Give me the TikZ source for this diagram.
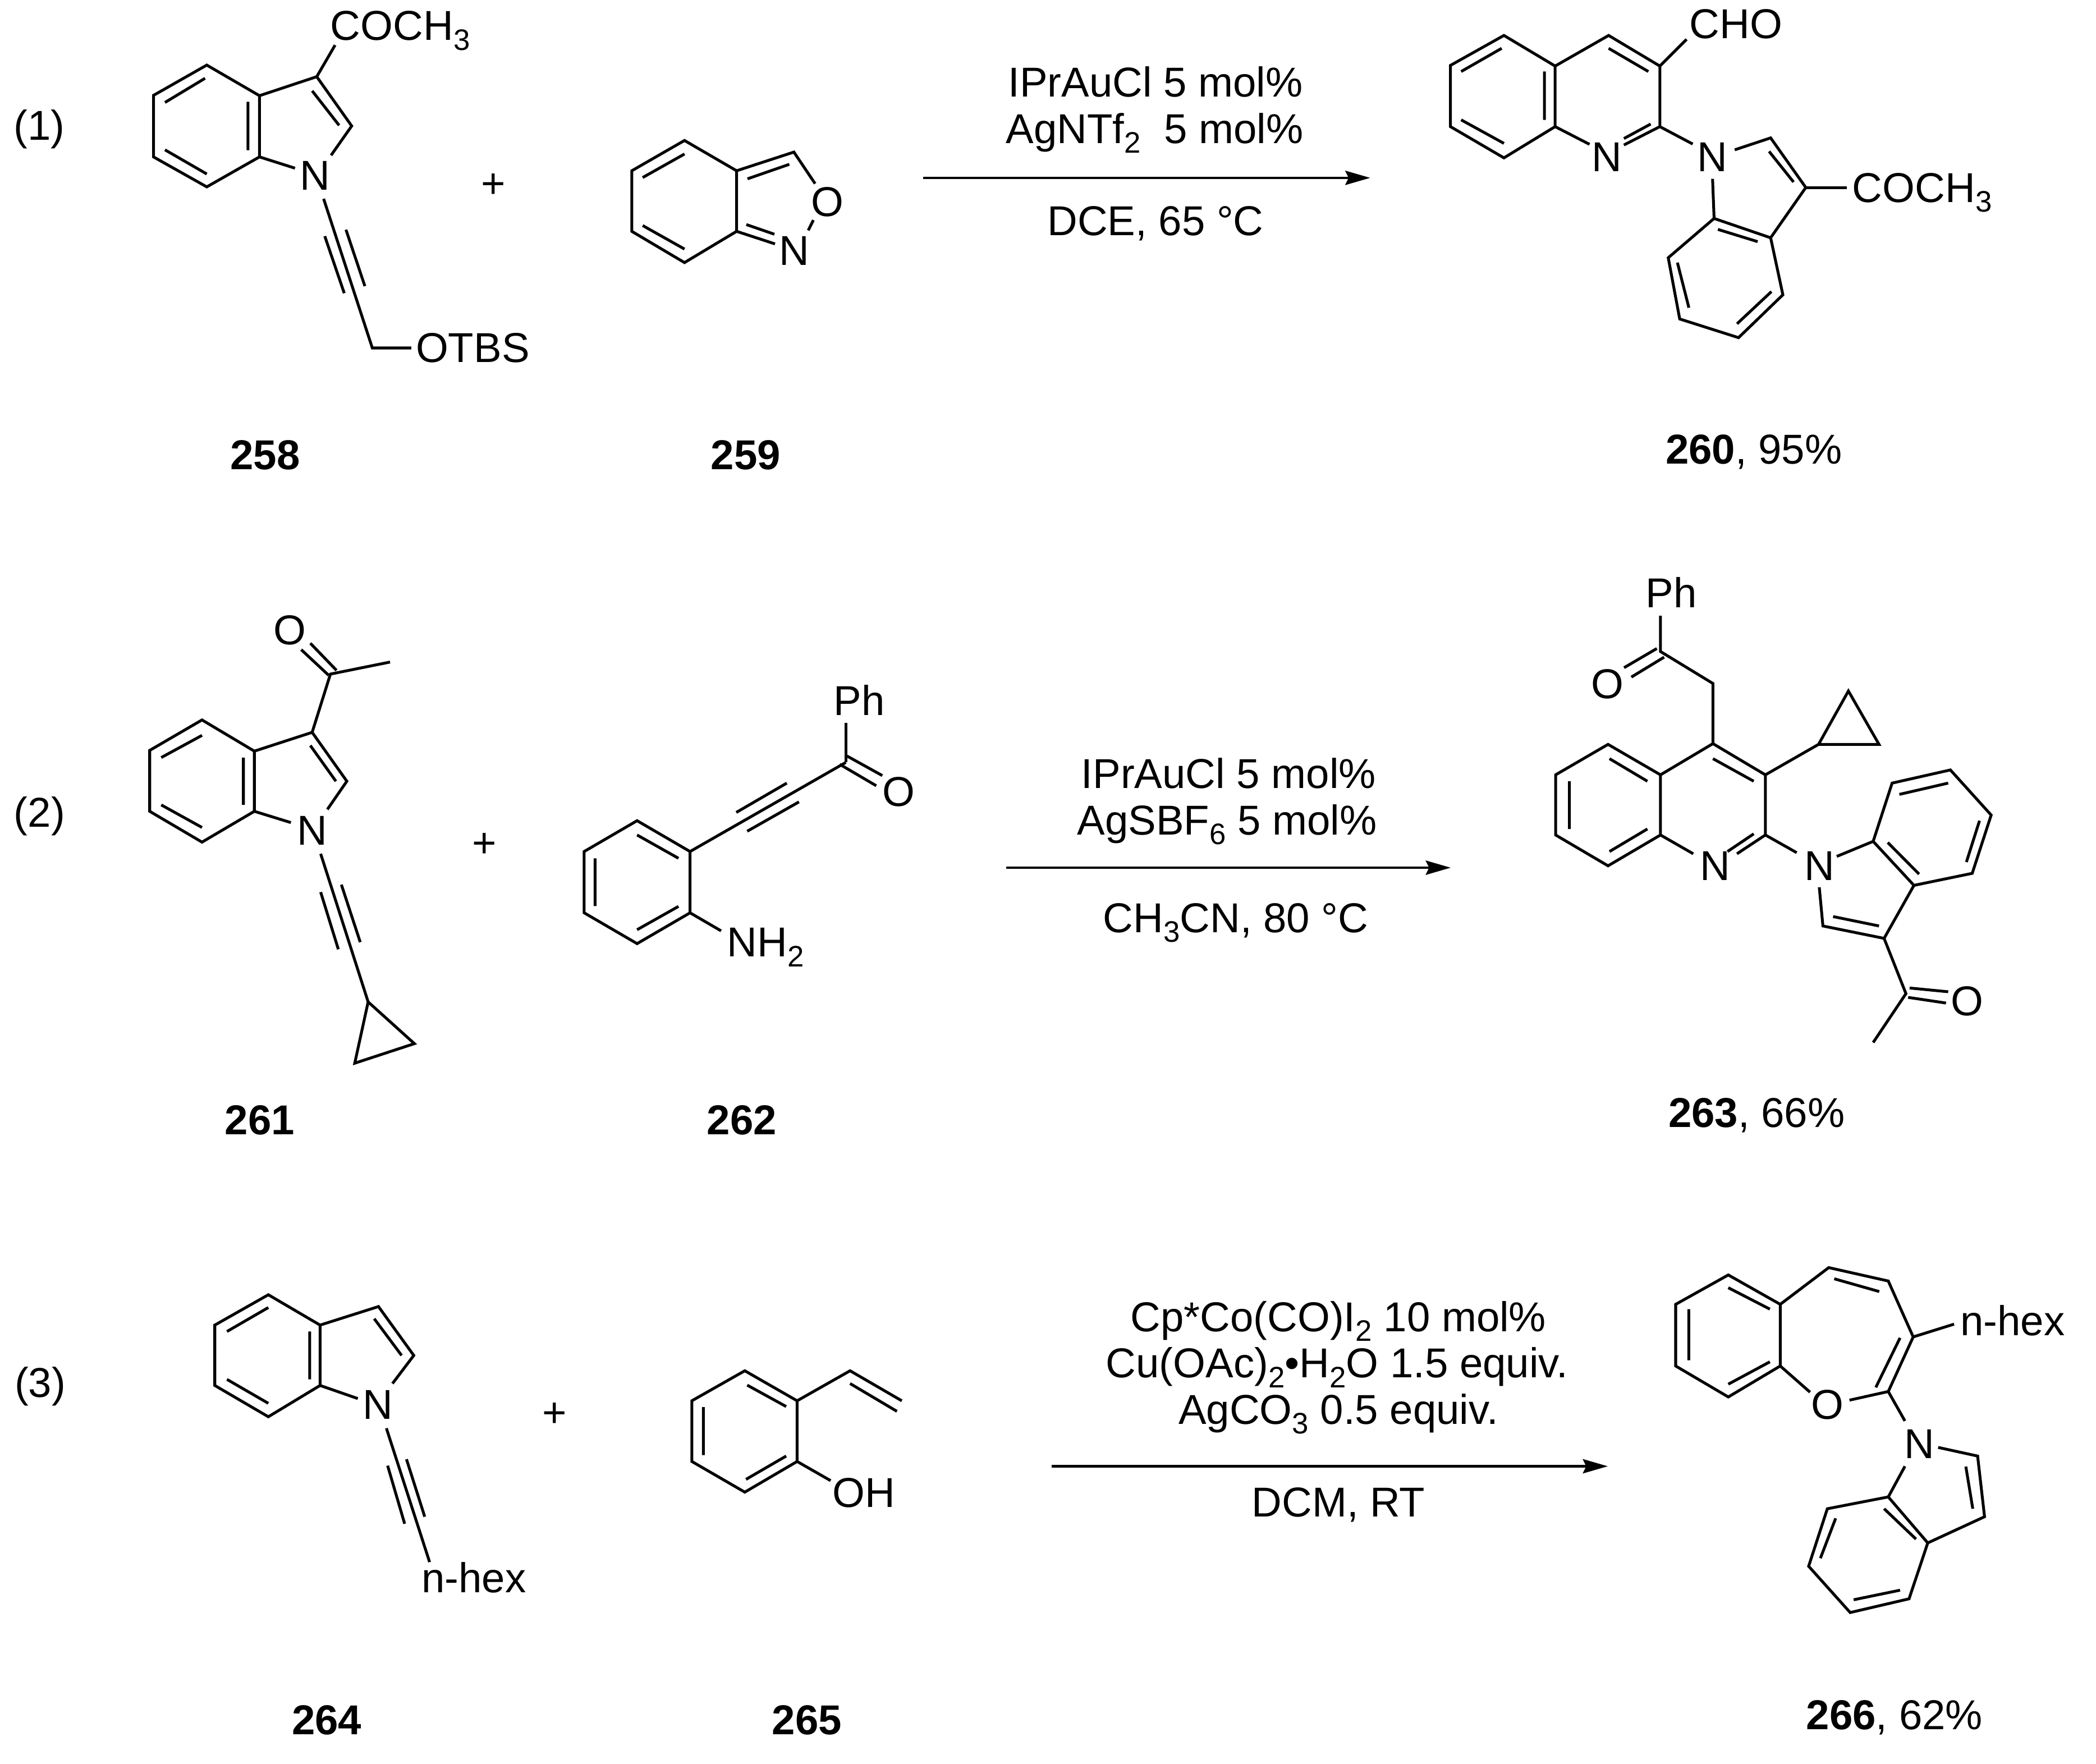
\documentclass[tikz,border=0pt]{standalone}
\usepackage{fontspec}
\setmainfont{Liberation Sans}
\usetikzlibrary{arrows.meta}
\newcommand{\sbs}[1]{\raisebox{-7.2pt}{\fontsize{22}{22}\selectfont #1}}
\tikzset{
  every node/.style={inner sep=0pt,outer sep=0pt,font=\fontsize{31}{36}\selectfont},
  lab/.style={anchor=base west},
  cen/.style={anchor=base},
  plus/.style={anchor=center},
  bond/.style={line width=2.1pt,line join=miter,line cap=butt},
  rxnarrow/.style={line width=1.9pt,-{Stealth[length=18.5pt,width=10.5pt,inset=2.5pt]}},
  z1/.style={x=0.4253pt,y=-0.2392pt},
  z2/.style={shift={(666.7pt,0pt)},x=0.5674pt,y=-0.2392pt},
  z3/.style={shift={(0pt,-416.7pt)},x=0.4518pt,y=-0.2791pt},
  z4/.style={shift={(708.3pt,-416.7pt)},x=0.5408pt,y=-0.2791pt},
  z5/.style={shift={(0pt,-937.5pt)},x=0.4518pt,y=-0.2371pt},
  z6/.style={shift={(750pt,-937.5pt)},x=0.5142pt,y=-0.2371pt},
}
\begin{document}
\begin{tikzpicture}
\fill[white] (0pt,0pt) rectangle (1556.25pt,-1309.17pt);
\useasboundingbox (0pt,0pt) rectangle (1556.25pt,-1309.17pt);

% ---------- Row 1, left
\begin{scope}[z1]
\node[lab] (eq1) at (24,435) {(1)};
\node[lab] (a258coch) at (577,125) {COCH\sbs{3}};
\node[lab] (a258n) at (524,590) {N};
\node[lab] (a258otbs) at (726,1125) {OTBS};
\node[cen] (l258) at (463,1457) {\bfseries 258};
\node[plus] (plus1) at (861,577) {+};
\draw[bond] (361,202)--(268,296)--(268,487)--(361,580)--(453,487)--(453,297)--cycle;
\draw[bond] (453,297)--(553,238)--(614,391)--(578,482);
\draw[bond] (453,487)--(515,522);
\draw[bond] (358,243)--(288,318) (288,465)--(361,540) (433,316)--(433,466) (545,282)--(592,389);
\draw[bond] (553,238)--(585,140);
\draw[bond] (565,617)--(650,1080)--(718,1080);
\draw[bond] (567,733)--(601,910) (604,713)--(637,888);
% 259
\node[lab] (a259o) at (1416,672) {O};
\node[lab] (a259n) at (1360,823) {N};
\node[cen] (l259) at (1302,1457) {\bfseries 259};
\draw[bond] (1195,436)--(1103,530)--(1103,718)--(1195,815)--(1286,718)--(1286,530)--cycle;
\draw[bond] (1286,530)--(1386,472)--(1423,570);
\draw[bond] (1286,718)--(1353,757);
\draw[bond] (1420,683)--(1411,715);
\draw[bond] (1195,478)--(1122,551) (1122,700)--(1195,773) (1305,555)--(1378,510) (1303,697)--(1352,727);
\end{scope}

% ---------- Row 1, right
\begin{scope}[z2]
\node[cen] (c1a) at (337,300) {IPrAuCl 5 mol\%};
\node[cen] (c1b) at (336,445) {AgNTf\sbs{2}\ \ 5 mol\%};
\node[cen] (c1c) at (337,730) {DCE, 65 °C};
\coordinate (r1s) at (33,552);
\coordinate (r1e) at (618,552);
\draw[rxnarrow] (r1s)--(r1e);
\node[lab] (a260cho) at (1036,120) {CHO};
\node[lab] (a260n1) at (908,533) {N};
\node[lab] (a260n2) at (1046,533) {N};
\node[lab] (a260coch) at (1249,628) {COCH\sbs{3}};
\node[cen] (l260) at (1120,1440) {{\bfseries 260}, 95\%};
\draw[bond] (793,110)--(723,203)--(723,393)--(793,490)--(860,393)--(860,205)--cycle;
\draw[bond] (860,205)--(930,110)--(997,205)--(997,393)--(950,450);
\draw[bond] (860,393)--(905,448);
\draw[bond] (790,150)--(737,222) (737,372)--(793,445) (846,222)--(846,372) (930,150)--(982,222) (985,385)--(950,430);
\draw[bond] (997,205)--(1032,122);
\draw[bond] (997,393)--(1040,447);
\draw[bond] (1095,465)--(1142,428)--(1188,582)--(1142,738)--(1068,678)--(1066,555);
\draw[bond] (1068,678)--(1008,800)--(1023,990)--(1100,1048)--(1158,915)--(1142,738);
\draw[bond] (1140,470)--(1172,565) (1073,712)--(1125,750) (1020,815)--(1035,955) (1098,1005)--(1143,905);
\draw[bond] (1188,582)--(1242,582);
\end{scope}

% ---------- Row 2, left
\begin{scope}[z3]
\node[lab] (eq2) at (23,707) {(2)};
\node[lab] (a261o) at (450,222) {O};
\node[lab] (a261n) at (488,755) {N};
\node[cen] (l261) at (427,1525) {\bfseries 261};
\node[plus] (plus2) at (796,755) {+};
\draw[bond] (332,422)--(246,503)--(246,665)--(332,747)--(418,665)--(418,505)--cycle;
\draw[bond] (418,505)--(513,455)--(570,585)--(538,660);
\draw[bond] (418,665)--(478,695);
\draw[bond] (332,463)--(265,522) (265,648)--(332,708) (400,522)--(400,648) (510,490)--(552,585);
\draw[bond] (513,455)--(543,300)--(641,268);
\draw[bond] (510,218)--(553,290) (495,235)--(540,303);
\draw[bond] (527,778)--(605,1172);
\draw[bond] (527,880)--(556,1032) (561,860)--(592,1013);
\draw[bond] (605,1172)--(681,1283)--(583,1335)--cycle;
% 262
\node[lab] (a262ph) at (1370,410) {Ph};
\node[lab] (a262o) at (1450,652) {O};
\node[lab] (a262nh) at (1195,1052) {NH\sbs{2}};
\node[cen] (l262) at (1219,1525) {\bfseries 262};
\draw[bond] (1047,690)--(960,772)--(960,935)--(1047,1017)--(1134,935)--(1134,772)--cycle;
\draw[bond] (1047,728)--(1115,790) (978,790)--(978,917) (1047,980)--(1115,918);
\draw[bond] (1134,772)--(1390,535);
\draw[bond] (1210,668)--(1293,590) (1228,718)--(1313,640);
\draw[bond] (1392,518)--(1450,570) (1380,540)--(1440,597);
\draw[bond] (1390,535)--(1390,430);
\draw[bond] (1134,935)--(1185,983);
\end{scope}

% ---------- Row 2, right
\begin{scope}[z4]
\node[cen] (c2a) at (377,603) {IPrAuCl 5 mol\%};
\node[cen] (c2b) at (375,727) {AgSBF\sbs{6} 5 mol\%};
\node[cen] (c2c) at (387,987) {CH\sbs{3}CN, 80 °C};
\coordinate (r2s) at (72,815);
\coordinate (r2e) at (682,815);
\draw[rxnarrow] (r2s)--(r2e);
\node[lab] (a263ph) at (950,123) {Ph};
\node[lab] (a263o1) at (875,365) {O};
\node[lab] (a263n1) at (1024,848) {N};
\node[lab] (a263n2) at (1168,848) {N};
\node[lab] (a263o2) at (1369,1208) {O};
\node[cen] (l263) at (1102,1505) {{\bfseries 263}, 66\%};
\draw[bond] (970,145)--(970,240)--(1042,325)--(1042,485);
\draw[bond] (965,232)--(920,283) (975,255)--(930,308);
\draw[bond] (898,487)--(826,568)--(826,728)--(898,810)--(970,728)--(970,568)--cycle;
\draw[bond] (970,568)--(1042,485)--(1114,568)--(1114,728)--(1075,778);
\draw[bond] (970,728)--(1015,778);
\draw[bond] (900,525)--(952,585) (845,585)--(845,712) (900,772)--(952,712) (1042,525)--(1098,585) (1098,725)--(1062,772);
\draw[bond] (1114,568)--(1187,487)--(1270,487)--(1228,345)--(1187,487);
\draw[bond] (1114,728)--(1157,775);
\draw[bond] (1212,785)--(1262,745)--(1288,590)--(1368,555)--(1424,675)--(1398,830)--(1318,862)--(1262,745);
\draw[bond] (1318,862)--(1277,1003)--(1193,970)--(1188,867);
\draw[bond] (1298,620)--(1365,590) (1408,690)--(1390,800) (1282,748)--(1325,832) (1207,945)--(1270,970);
\draw[bond] (1277,1003)--(1307,1150)--(1262,1280);
\draw[bond] (1312,1135)--(1365,1145) (1310,1160)--(1362,1175);
\end{scope}

% ---------- Row 3, left
\begin{scope}[z5]
\node[lab] (eq3) at (24,420) {(3)};
\node[lab] (a264n) at (596,490) {N};
\node[lab] (a264hex) at (693,1032) {n-hex};
\node[cen] (l264) at (537,1477) {\bfseries 264};
\node[plus] (plus3) at (911,477) {+};
\draw[bond] (441,100)--(353,195)--(353,384)--(441,482)--(526,384)--(526,195)--cycle;
\draw[bond] (526,195)--(622,137)--(680,290)--(645,378);
\draw[bond] (526,384)--(588,425);
\draw[bond] (441,140)--(373,215) (373,365)--(441,440) (509,215)--(509,365) (615,175)--(660,290);
\draw[bond] (635,518)--(706,937);
\draw[bond] (637,635)--(665,817) (668,615)--(698,795);
% 265
\node[lab] (a265oh) at (1368,765) {OH};
\node[cen] (l265) at (1326,1477) {\bfseries 265};
\draw[bond] (1224,338)--(1137,432)--(1137,622)--(1224,718)--(1310,622)--(1310,432)--cycle;
\draw[bond] (1228,383)--(1292,450) (1156,452)--(1156,602) (1226,678)--(1292,605);
\draw[bond] (1310,432)--(1397,338)--(1482,432);
\draw[bond] (1397,378)--(1474,465);
\draw[bond] (1310,622)--(1365,682);
\end{scope}

% ---------- Row 3, right
\begin{scope}[z6]
\node[cen] (c3a) at (474,215) {Cp*Co(CO)I\sbs{2} 10 mol\%};
\node[cen] (c3b) at (472,360) {Cu(OAc)\sbs{2}•H\sbs{2}O 1.5 equiv.};
\node[cen] (c3c) at (474,505) {AgCO\sbs{3} 0.5 equiv.};
\node[cen] (c3d) at (474,795) {DCM, RT};
\coordinate (r3s) at (60,637);
\coordinate (r3e) at (863,637);
\draw[rxnarrow] (r3s)--(r3e);
\node[lab] (a266o) at (1157,490) {O};
\node[lab] (a266hex) at (1372,228) {n-hex};
\node[lab] (a266n) at (1291,612) {N};
\node[cen] (l266) at (1277,1462) {{\bfseries 266}, 62\%};
\draw[bond] (1037,38)--(961,130)--(961,323)--(1037,420)--(1112,323)--(1112,130)--cycle;
\draw[bond] (1112,130)--(1182,15)--(1268,57)--(1304,232)--(1268,403)--(1212,430);
\draw[bond] (1112,323)--(1155,405);
\draw[bond] (1037,78)--(1097,145) (980,145)--(980,305) (1037,380)--(1097,310) (1190,50)--(1255,90) (1285,235)--(1250,390);
\draw[bond] (1304,232)--(1363,192);
\draw[bond] (1268,403)--(1292,495);
\draw[bond] (1340,578)--(1397,605)--(1407,795)--(1325,877)--(1268,733)--(1292,637);
\draw[bond] (1268,733)--(1180,770)--(1153,950)--(1213,1095)--(1298,1052)--(1325,877);
\draw[bond] (1380,638)--(1390,770) (1262,770)--(1308,865) (1192,800)--(1170,925) (1218,1055)--(1285,1025);
\end{scope}
\end{tikzpicture}
\end{document}
